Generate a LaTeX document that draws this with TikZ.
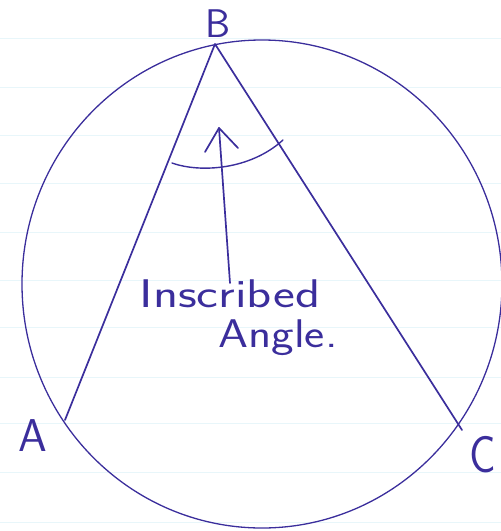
\documentclass[tikz,border=0pt]{standalone}
\definecolor{pen}{HTML}{3B2E9C}
\definecolor{ruleline}{HTML}{E8F6FA}
\begin{document}
\begin{tikzpicture}[x=1pt,y=-1pt,
  ink/.style={draw=pen, line width=1.7pt, line cap=round, line join=round},
  hand/.style={text=pen, font=\sffamily\fontsize{#1}{#1}\selectfont, inner sep=0pt}]
\useasboundingbox (0,0) rectangle (501,531);
\begin{scope}
  \clip (0,0) rectangle (501,531);
  \foreach \yy in {38,87,135,183,232,280,327,377,423,472,522}
    \draw[ruleline, line width=1pt] (0,\yy) -- (501,\yy);
  \draw[pen, line width=1.3pt] (262,284) ellipse [x radius=240, y radius=244];
\end{scope}
\coordinate (A) at (65,420);
\coordinate (B) at (215,44);
\coordinate (C) at (462,430);
\draw[ink] (A) -- (B) -- (C);
% angle arc
\coordinate (arcL) at (172,163);
\coordinate (arcR) at (283,140);
\draw[ink, line width=1.4pt] (arcL) .. controls (200,173) and (250,170) .. (arcR);
% arrow
\coordinate (tail) at (230,283);
\coordinate (tip) at (219,128);
\coordinate (barbL) at (205,152);
\coordinate (barbR) at (238,148);
\draw[ink] (tail) -- (tip);
\draw[ink] (barbL) -- (tip) -- (barbR);
% labels
\node[hand=40] (lB) at (218,24) {B};
\node[hand=46] (lA) at (33,436) {A};
\node[hand=52, xscale=0.85] (lC) at (483,455) {C};
\node[hand=40, xscale=1.3] (l1) at (230,294) {Inscribed};
\node[hand=40, xscale=1.2] (l2) at (278,338) {Angle.};
\end{tikzpicture}
\end{document}
